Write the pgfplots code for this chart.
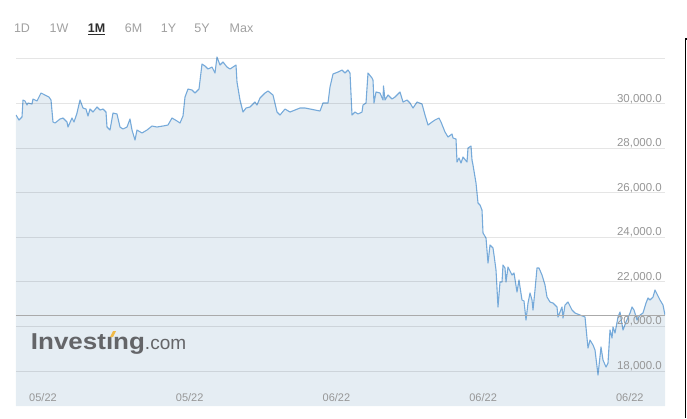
\documentclass[border=0pt]{standalone}
\usepackage{fontspec}
\setmainfont{Liberation Sans}
\usepackage{graphicx}
\usepackage{pgfplots}
\pgfplotsset{compat=1.18}
\usepackage{pgfplotstable}
\definecolor{linec}{RGB}{118,170,218}
\definecolor{fillc}{RGB}{229,237,243}
\definecolor{lblc}{RGB}{150,150,150}
\definecolor{btnc}{RGB}{160,160,160}
\definecolor{darkc}{RGB}{45,45,45}
\definecolor{logoc}{RGB}{100,101,104}
\definecolor{accentc}{RGB}{240,185,70}
\definecolor{pricec}{RGB}{170,170,170}

\pgfplotstableread{
x y
0 29487
3 29262
6 29397
7 30160
9 30115
11 29935
12 30025
16 29980
17 30205
21 30115
25 30474
29 30384
33 30294
35 30160
37 29173
39 29128
44 29307
47 29352
51 29173
52 28948
56 29352
58 29173
61 29576
64 30160
67 29801
70 29756
72 29442
74 29756
77 29621
81 29846
84 29711
87 29756
90 29621
91 28948
94 28814
97 29576
101 29532
104 28948
107 28859
111 28948
114 29307
116 28814
119 28365
121 28814
126 28679
131 28814
136 28993
141 28948
147 28993
152 29038
156 29352
161 29218
164 29128
167 29442
169 30294
172 30653
176 30608
179 30474
183 30653
186 31775
189 31685
192 31551
196 31640
199 31371
201 32089
204 31730
207 31865
211 31640
214 31551
217 31640
220 31730
221 30967
224 30160
227 29621
230 29801
234 29846
239 30070
241 29935
244 30249
249 30474
252 30564
257 30384
261 29621
264 29487
269 29756
274 29621
279 29711
284 29801
289 29801
294 29756
299 29711
304 29666
307 30025
312 30025
314 30743
317 31326
322 31416
326 31506
329 31371
332 31506
334 31371
336 29487
339 29621
342 29532
346 29621
347 29935
350 30025
352 31371
356 31147
357 31057
358 30025
360 30519
364 30474
367 30160
367.5 30788
369 30160
372 30384
376 30205
379 30294
384 30519
387 30070
391 30160
394 30025
397 29801
401 30070
406 29980
409 29487
412 29038
416 29173
419 29263
423 29352
425 29173
429 28724
432 28500
436 28634
437 28455
440 28410
441 27378
443 27558
445 27333
447 27602
451 27378
452 28006
455 28096
456 27468
457 27243
460 26436
462 25538
464 25448
466 25224
467 24192
470 23968
472 22846
474 23654
477 23519
478 23205
480 22532
482 20872
484 21993
486 21993
487 22756
489 22622
490 21993
492 22666
496 22308
498 22398
501 21545
503 22083
504 21769
506 21186
508 21141
510 20288
512 21051
514 21500
516 21186
517 20737
519 21634
521 22622
523 22622
526 22308
529 21859
531 21320
534 21096
537 21051
541 20872
542 20423
546 20872
547 20378
549 20961
552 21096
556 20737
559 20602
564 20513
569 20423
571 19481
572 19032
574 19391
577 19167
579 18942
582 17821
585 19077
587 18494
590 18179
592 18359
594 19840
596 19481
597 19974
599 19705
602 20423
604 20647
605 20378
607 19840
610 20199
614 20602
616 20872
618 20737
621 20288
624 20513
627 20602
630 21051
632 21276
634 21186
637 21320
639 21634
641 21455
644 21186
647 20961
649 20513
}\pricedata

\begin{document}
\begin{tikzpicture}[x=1pt,y=1pt]
\useasboundingbox (0,0) rectangle (687,418);
\begin{axis}[at={(16pt,12pt)}, anchor=south west, scale only axis,
  width=649pt, height=361pt,
  xmin=0, xmax=649, ymin=16430, ymax=32628,
  scaled y ticks=false, scaled x ticks=false,
  axis line style={draw=none}, tick style={draw=none}, major tick length=0pt,
  ytick={18000,20000,...,32000},
  yticklabels={{18,000.0},{20,000.0},{22,000.0},{24,000.0},{26,000.0},{28,000.0},{30,000.0},{}},
  yticklabel pos=right,
  yticklabel style={anchor=base east, inner sep=0pt, xshift=-3pt, yshift=1.5pt, text=lblc, font=\fontsize{11.5}{13}\selectfont},
  xtick={27,173.7,320.4,467.1,613.8},
  xticklabels={05/22,05/22,06/22,06/22,06/22},
  xticklabel style={anchor=base, inner sep=0pt, yshift=5pt, text=lblc, font=\fontsize{11}{13}\selectfont},
  ymajorgrids, grid style={black, opacity=0.1, line width=1pt},
  axis on top]
\addplot[draw=none, fill=fillc] table[x=x,y=y]{\pricedata} \closedcycle;
\addplot[linec, line width=1.1pt, line join=round] table[x=x,y=y]{\pricedata};
\addplot[pricec, line width=1pt] coordinates {(0,20472) (649,20472)};
\end{axis}
% range buttons
\node[anchor=base, inner sep=0pt, text=btnc, font=\fontsize{12.5}{14}\selectfont] at (22,385.3) {1D};
\node[anchor=base, inner sep=0pt, text=btnc, font=\fontsize{12.5}{14}\selectfont] at (59,385.3) {1W};
\node[anchor=base, inner sep=0pt, text=darkc, font=\fontsize{12.5}{14}\selectfont\bfseries] at (96.5,385.3) {1M};
\draw[darkc, line width=1.3pt] (88,383.5) -- (105.2,383.5);
\node[anchor=base, inner sep=0pt, text=btnc, font=\fontsize{12.5}{14}\selectfont] at (133.5,385.3) {6M};
\node[anchor=base, inner sep=0pt, text=btnc, font=\fontsize{12.5}{14}\selectfont] at (168.5,385.3) {1Y};
\node[anchor=base, inner sep=0pt, text=btnc, font=\fontsize{12.5}{14}\selectfont] at (202,385.3) {5Y};
\node[anchor=base, inner sep=0pt, text=btnc, font=\fontsize{12.5}{14}\selectfont] at (241.5,385.3) {Max};
% logo
\node[anchor=base west, inner sep=0pt, text=logoc] at (30.7,69) {\scalebox{1.13}[1]{\fontsize{23}{25}\selectfont\bfseries Investıng}\fontsize{19}{21}\selectfont .com};
\fill[accentc] (110,81) -- (113,81) -- (116,87) -- (113,87) -- cycle;
% frame edge
\draw[black, line width=1.5pt] (687,379) -- (685.5,379) -- (685.5,0);
\end{tikzpicture}
\end{document}
